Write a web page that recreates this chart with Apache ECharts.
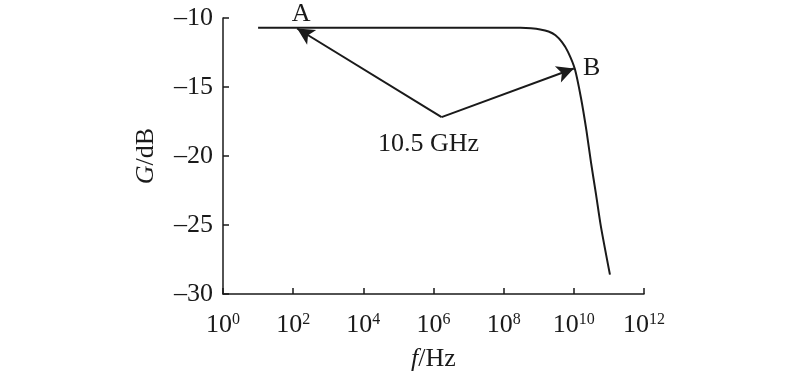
<!DOCTYPE html>
<html>
<head>
<meta charset="utf-8">
<script src="https://cdn.jsdelivr.net/npm/echarts@6/dist/echarts.min.js"></script>
<style>
  html, body { margin: 0; padding: 0; background: #fff; }
  #chart { width: 800px; height: 377px; }
</style>
</head>
<body>
<div id="chart"></div>
<script>
// 频率 (Hz) 与增益 (dB)
var freq = [1e1, 1e3, 1e5, 1e7, 1e8, 3e8, 6e8, 1.1e9, 1.9e9, 3e9, 4.6e9, 6.8e9, 1.07e10, 1.6e10, 2.3e10, 3.1e10, 4.3e10, 5.9e10, 1.07e11];
var gain = [-10.7, -10.7, -10.7, -10.7, -10.7, -10.71, -10.75, -10.83, -10.98, -11.25, -11.75, -12.45, -13.7, -15.8, -18.2, -20.5, -22.8, -25.1, -28.6];

var xTicks = [0, 2, 4, 6, 8, 10, 12]; // 指数
var yTicks = [-30, -25, -20, -15, -10];

// 箭头: 从转折点指向 A / B
var arrowFrom = [1.7e6, -17.18];
var arrowToA = [1.3e2, -10.76];
var arrowToB = [1.0e10, -13.66];

// 文字标注
var notes = [
  { name: "A", value: [1.7e2, -9.72] },
  { name: "B", value: [3.2e10, -13.66] },
  { name: "10.5 GHz", value: [7.2e5, -19.15] }
];

var serif = "'Liberation Serif', 'DejaVu Serif', serif";
var ink = "#1a1a1a";
var fs = 26;

var chart = echarts.init(document.getElementById("chart"));
var option = {
  animation: false,
  grid: {
    left: 223,
    right: 156,
    top: 18,
    bottom: 75,
  },
  xAxis: {
    type: "log",
    logBase: 10,
    min: 1,
    max: 1e12,
    interval: 2,
    name: "{i|f}/Hz",
    nameLocation: "middle",
    nameGap: 52,
    nameTextStyle: {
      fontFamily: serif,
      fontSize: fs,
      color: ink,
      rich: {
        i: { fontFamily: serif, fontSize: fs, fontStyle: "italic", color: ink },
      },
    },
    axisLine: { lineStyle: { color: ink, width: 1.5 } },
    axisTick: { inside: true, length: 6, lineStyle: { color: ink, width: 1.5 } },
    splitLine: { show: false },
    minorTick: { show: false },
    axisLabel: {
      margin: 18,
      color: ink,
      formatter: function (v) {
        var e = Math.round(Math.log10(v));
        if (xTicks.indexOf(e) < 0) return "";
        return "{b|10}{s|" + e + "}";
      },
      rich: {
        b: { fontFamily: serif, fontSize: fs, color: ink },
        s: { fontFamily: serif, fontSize: 16, color: ink, verticalAlign: "top", padding: [0, 0, 10, 0] },
      },
    },
  },
  yAxis: {
    type: "value",
    min: -30,
    max: -10,
    interval: 5,
    name: "{i|G}/dB",
    nameLocation: "middle",
    nameGap: 64,
    nameTextStyle: {
      fontFamily: serif,
      fontSize: fs,
      color: ink,
      rich: {
        i: { fontFamily: serif, fontSize: fs, fontStyle: "italic", color: ink },
      },
    },
    axisLine: { show: true, lineStyle: { color: ink, width: 1.5 } },
    axisTick: { show: true, inside: true, length: 6, lineStyle: { color: ink, width: 1.5 } },
    splitLine: { show: false },
    axisLabel: {
      margin: 10,
      color: ink,
      fontFamily: serif,
      fontSize: fs,
      formatter: function (v) {
        return String(v).replace("-", "\u2013");
      },
    },
  },
  series: [
    {
      type: "line",
      data: freq.map(function (f, i) { return [f, gain[i]]; }),
      smooth: 0.25,
      symbol: "none",
      lineStyle: { color: ink, width: 2 },
      markLine: {
        silent: true,
        symbol: ["none", "arrow"],
        symbolSize: [13, 17],
        lineStyle: { color: ink, width: 2, type: "solid" },
        label: { show: false },
        data: [
          [{ coord: arrowFrom }, { coord: arrowToA }],
          [{ coord: arrowFrom }, { coord: arrowToB }],
        ],
      },
    },
    {
      type: "scatter",
      clip: false,
      symbolSize: 0,
      silent: true,
      itemStyle: { opacity: 1 },
      data: notes,
      label: {
        show: true,
        position: "inside",
        formatter: "{b}",
        fontFamily: serif,
        fontSize: fs,
        color: ink,
        opacity: 1,
      },
    },
  ],
};
chart.setOption(option);
</script>
</body>
</html>
